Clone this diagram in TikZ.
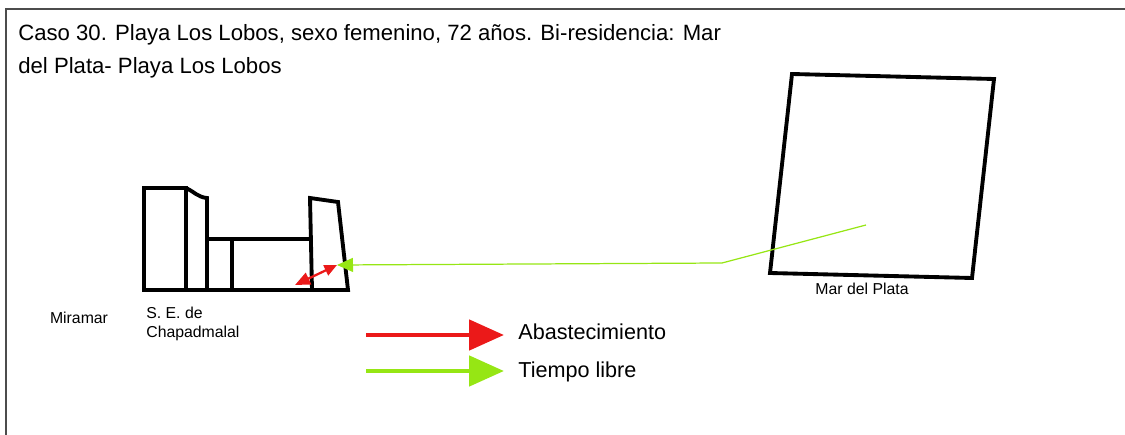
\documentclass[tikz,border=0pt]{standalone}
\usepackage{fontspec}
\setmainfont{Liberation Sans}
\usetikzlibrary{arrows.meta,positioning,calc}

\definecolor{abasto}{RGB}{235,25,25}
\definecolor{ocio}{RGB}{150,230,20}

\begin{document}
\begin{tikzpicture}[
    x=0.02cm, y=-0.02cm,
    edificio/.style={draw, line width=2.2pt, line join=miter},
    rotulo/.style={font=\fontsize{9}{10.5}\selectfont, inner sep=0pt},
    leyenda/.style={font=\fontsize{12.3}{14}\selectfont, anchor=west, inner sep=0pt},
    flecha/.style={line width=2.8pt, -{Triangle[length=0.7cm, width=0.6cm]}}
]
\useasboundingbox (0,0) rectangle (1125,435);

% marco
\draw[black!70, line width=0.8pt] (6,435) -- (6,9) -- (1125,9);

% titulo
\node[anchor=north west, align=left, inner sep=0pt, font=\fontsize{12.6}{19}\selectfont] (titulo) at (18,24)
    {Caso 30. Playa Los Lobos, sexo femenino, 72 años. Bi-residencia: Mar\\del Plata- Playa Los Lobos};

% S. E. de Chapadmalal
\draw[edificio] (144,188) rectangle (186,290);
\draw[edificio] (186,188) to[out=-25, in=175] (207,198) -- (207,290);
\draw[edificio] (207,239) -- (312,239);
\draw[edificio] (232,239) -- (232,290);
\draw[edificio] (312,290) -- (310,198) -- (338,202) -- (348,290) -- (144,290);

% Mar del Plata
\draw[edificio] (792,74) -- (994,79) -- (972,278) -- (770,273) -- cycle;

% rotulos
\node[rotulo] (miramar) at (79,318) {Miramar};
\node[rotulo, anchor=west, align=left] (chapad) at (146,324) {S. E. de\\Chapadmalal};
\node[rotulo] (mdp) at (862,289) {Mar del Plata};

% desplazamientos
\coordinate (mdpc) at (866,225);
\coordinate (quiebre) at (722,263);
\coordinate (sedc) at (337,265);
\coordinate (compra) at (295,285);
\draw[abasto, line width=1.3pt, {Triangle[length=0.3cm, width=0.25cm]}-{Triangle[length=0.25cm, width=0.22cm]}] (compra) -- (sedc);
\draw[ocio, line width=0.7pt, -{Triangle[length=0.32cm, width=0.28cm]}] (mdpc) -- (quiebre) -- (sedc);

% leyenda
\node[leyenda] (abast) at (518,332) {Abastecimiento};
\node[leyenda] (libre) at (518,372) {Tiempo libre};
\coordinate (rojo) at (366,335);
\coordinate (verde) at (366,371);
\draw[flecha, abasto] (rojo) -- ($(rojo -| abast.west)+(-14,0)$);
\draw[flecha, ocio] (verde) -- ($(verde -| libre.west)+(-14,0)$);
\end{tikzpicture}
\end{document}
